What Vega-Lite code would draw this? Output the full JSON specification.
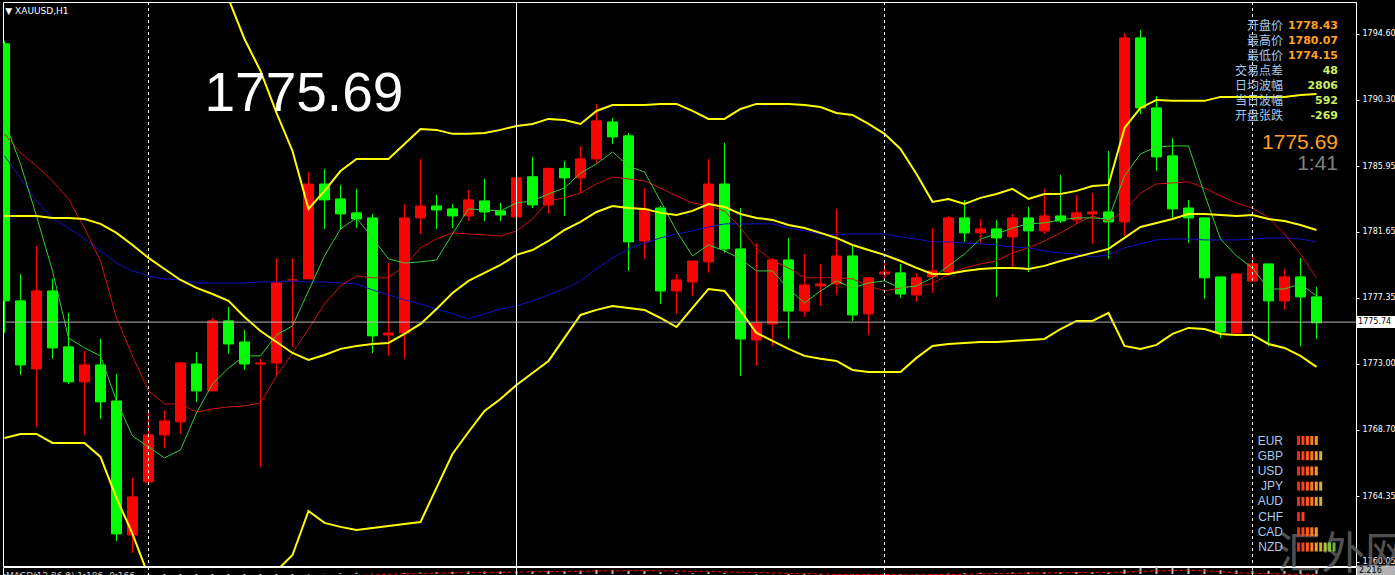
{
  "$schema": "https://vega.github.io/schema/vega-lite/v6.json",
  "background": "#000000",
  "padding": {"left": 2, "top": 1, "right": 0, "bottom": 0},
  "spacing": 1,
  "bounds": "flush",
  "config": {
    "view": {"stroke": "#ffffff", "strokeWidth": 1},
    "font": "DejaVu Sans",
    "scale": {"continuousPadding": 0}
  },
  "datasets": {
    "bars": [
      {"i":0,"o":1793.95,"h":1794.14,"l":1775.03,"c":1777.13,"bbu":1797.22,"bbm":1782.69,"bbl":1768.16,"maf":1788.91,"mam":1788.06,"mas":1786.62},
      {"i":1,"o":1777.13,"h":1778.89,"l":1772.28,"c":1772.94,"bbu":1796.96,"bbm":1782.69,"bbl":1768.42,"maf":1786.09,"mam":1786.81,"mas":1785.18},
      {"i":2,"o":1772.68,"h":1780.73,"l":1768.88,"c":1777.78,"bbu":1796.96,"bbm":1782.69,"bbl":1768.42,"maf":1782.69,"mam":1785.96,"mas":1783.67},
      {"i":3,"o":1777.78,"h":1778.57,"l":1773.34,"c":1774.05,"bbu":1797.28,"bbm":1782.56,"bbl":1767.83,"maf":1779.09,"mam":1784.98,"mas":1782.56},
      {"i":4,"o":1774.12,"h":1776.34,"l":1771.69,"c":1771.83,"bbu":1797.28,"bbm":1782.56,"bbl":1767.83,"maf":1774.71,"mam":1783.80,"mas":1781.90},
      {"i":5,"o":1771.83,"h":1773.85,"l":1768.36,"c":1772.94,"bbu":1797.15,"bbm":1782.49,"bbl":1767.83,"maf":1774.05,"mam":1781.90,"mas":1781.18},
      {"i":6,"o":1772.94,"h":1774.64,"l":1769.40,"c":1770.52,"bbu":1797.41,"bbm":1782.17,"bbl":1766.92,"maf":1773.53,"mam":1779.74,"mas":1780.40},
      {"i":7,"o":1770.58,"h":1772.35,"l":1761.42,"c":1761.88,"bbu":1798.92,"bbm":1781.58,"bbl":1764.23,"maf":1770.58,"mam":1776.01,"mas":1779.61},
      {"i":8,"o":1761.81,"h":1765.55,"l":1760.63,"c":1764.30,"bbu":1799.84,"bbm":1780.79,"bbl":1761.88,"maf":1768.29,"mam":1773.53,"mas":1779.09},
      {"i":9,"o":1765.28,"h":1769.80,"l":1765.28,"c":1768.36,"bbu":1800.75,"bbm":1779.94,"bbl":1759.13,"maf":1767.57,"mam":1771.24,"mas":1778.76},
      {"i":10,"o":1768.36,"h":1769.99,"l":1767.51,"c":1769.27,"bbu":1801.28,"bbm":1779.22,"bbl":1757.17,"maf":1766.85,"mam":1770.39,"mas":1778.57},
      {"i":11,"o":1769.21,"h":1773.12,"l":1768.42,"c":1773.07,"bbu":1800.62,"bbm":1778.50,"bbl":1756.51,"maf":1767.38,"mam":1770.39,"mas":1778.50},
      {"i":12,"o":1773.00,"h":1773.79,"l":1770.52,"c":1771.24,"bbu":1799.44,"bbm":1777.98,"bbl":1756.51,"maf":1769.80,"mam":1769.86,"mas":1778.30},
      {"i":13,"o":1771.24,"h":1776.01,"l":1771.24,"c":1775.82,"bbu":1798.33,"bbm":1777.58,"bbl":1756.84,"maf":1771.69,"mam":1770.06,"mas":1778.30},
      {"i":14,"o":1775.82,"h":1776.73,"l":1773.66,"c":1774.31,"bbu":1796.89,"bbm":1777.13,"bbl":1757.36,"maf":1772.74,"mam":1770.19,"mas":1778.30},
      {"i":15,"o":1774.44,"h":1775.23,"l":1772.61,"c":1773.00,"bbu":1794.27,"bbm":1776.08,"bbl":1757.89,"maf":1773.53,"mam":1770.26,"mas":1778.30},
      {"i":16,"o":1773.00,"h":1773.34,"l":1766.26,"c":1773.07,"bbu":1792.18,"bbm":1775.16,"bbl":1758.15,"maf":1773.53,"mam":1770.45,"mas":1778.37},
      {"i":17,"o":1773.07,"h":1779.94,"l":1772.28,"c":1778.31,"bbu":1789.43,"bbm":1774.44,"bbl":1759.46,"maf":1774.90,"mam":1772.22,"mas":1778.37},
      {"i":18,"o":1778.49,"h":1779.94,"l":1774.12,"c":1778.50,"bbu":1786.94,"bbm":1773.72,"bbl":1760.50,"maf":1775.49,"mam":1773.72,"mas":1778.44},
      {"i":19,"o":1778.57,"h":1785.57,"l":1778.57,"c":1784.78,"bbu":1783.15,"bbm":1773.27,"bbl":1763.38,"maf":1777.78,"mam":1775.29,"mas":1778.37},
      {"i":20,"o":1784.78,"h":1785.77,"l":1781.84,"c":1783.74,"bbu":1784.33,"bbm":1773.59,"bbl":1762.60,"maf":1780.07,"mam":1776.93,"mas":1778.37},
      {"i":21,"o":1783.80,"h":1784.72,"l":1781.77,"c":1782.82,"bbu":1785.63,"bbm":1773.99,"bbl":1762.34,"maf":1781.84,"mam":1778.11,"mas":1778.30},
      {"i":22,"o":1782.89,"h":1784.46,"l":1781.90,"c":1782.49,"bbu":1786.42,"bbm":1774.18,"bbl":1762.14,"maf":1782.56,"mam":1778.76,"mas":1778.24},
      {"i":23,"o":1782.56,"h":1782.82,"l":1773.72,"c":1774.84,"bbu":1786.42,"bbm":1774.31,"bbl":1762.27,"maf":1781.25,"mam":1778.64,"mas":1777.85},
      {"i":24,"o":1774.90,"h":1779.61,"l":1773.53,"c":1775.03,"bbu":1786.42,"bbm":1774.38,"bbl":1762.40,"maf":1779.88,"mam":1778.64,"mas":1777.52},
      {"i":25,"o":1775.03,"h":1783.47,"l":1773.34,"c":1782.56,"bbu":1787.40,"bbm":1774.97,"bbl":1762.53,"maf":1779.61,"mam":1779.42,"mas":1777.19},
      {"i":26,"o":1782.56,"h":1786.42,"l":1781.51,"c":1783.34,"bbu":1788.38,"bbm":1775.62,"bbl":1762.66,"maf":1779.68,"mam":1780.60,"mas":1776.93},
      {"i":27,"o":1783.34,"h":1784.06,"l":1781.84,"c":1783.08,"bbu":1788.32,"bbm":1776.60,"bbl":1764.89,"maf":1779.81,"mam":1781.18,"mas":1776.60},
      {"i":28,"o":1783.15,"h":1783.47,"l":1781.90,"c":1782.69,"bbu":1788.06,"bbm":1777.65,"bbl":1767.11,"maf":1781.51,"mam":1781.58,"mas":1776.28},
      {"i":29,"o":1782.69,"h":1784.39,"l":1782.36,"c":1783.74,"bbu":1788.06,"bbm":1778.44,"bbl":1768.55,"maf":1783.15,"mam":1781.51,"mas":1775.95},
      {"i":30,"o":1783.67,"h":1785.11,"l":1782.36,"c":1782.95,"bbu":1788.12,"bbm":1778.96,"bbl":1769.93,"maf":1783.08,"mam":1781.45,"mas":1776.28},
      {"i":31,"o":1783.02,"h":1783.54,"l":1782.36,"c":1782.75,"bbu":1788.32,"bbm":1779.48,"bbl":1770.71,"maf":1783.02,"mam":1781.38,"mas":1776.60},
      {"i":32,"o":1782.62,"h":1785.25,"l":1782.49,"c":1785.18,"bbu":1788.58,"bbm":1780.14,"bbl":1771.63,"maf":1783.54,"mam":1781.71,"mas":1776.80},
      {"i":33,"o":1785.25,"h":1786.55,"l":1783.21,"c":1783.41,"bbu":1788.71,"bbm":1780.46,"bbl":1772.41,"maf":1783.67,"mam":1782.49,"mas":1777.13},
      {"i":34,"o":1783.41,"h":1785.86,"l":1782.82,"c":1785.80,"bbu":1789.04,"bbm":1781.05,"bbl":1773.20,"maf":1784.13,"mam":1783.67,"mas":1777.52},
      {"i":35,"o":1785.80,"h":1786.29,"l":1782.69,"c":1785.18,"bbu":1788.97,"bbm":1781.77,"bbl":1774.71,"maf":1784.52,"mam":1783.87,"mas":1777.91},
      {"i":36,"o":1785.18,"h":1787.27,"l":1784.19,"c":1786.42,"bbu":1788.71,"bbm":1782.30,"bbl":1776.21,"maf":1785.50,"mam":1784.19,"mas":1778.44},
      {"i":37,"o":1786.42,"h":1790.02,"l":1786.09,"c":1788.91,"bbu":1789.56,"bbm":1782.95,"bbl":1776.54,"maf":1786.09,"mam":1784.78,"mas":1779.22},
      {"i":38,"o":1788.84,"h":1789.10,"l":1787.40,"c":1787.86,"bbu":1789.95,"bbm":1783.34,"bbl":1776.80,"maf":1786.88,"mam":1785.24,"mas":1779.94},
      {"i":39,"o":1787.93,"h":1788.12,"l":1779.09,"c":1780.99,"bbu":1789.95,"bbm":1783.21,"bbl":1776.67,"maf":1785.96,"mam":1785.11,"mas":1780.53},
      {"i":40,"o":1781.05,"h":1784.52,"l":1779.88,"c":1783.15,"bbu":1789.95,"bbm":1783.15,"bbl":1776.54,"maf":1785.56,"mam":1784.98,"mas":1780.92},
      {"i":41,"o":1783.21,"h":1783.34,"l":1776.93,"c":1777.78,"bbu":1790.02,"bbm":1782.89,"bbl":1776.01,"maf":1783.67,"mam":1784.52,"mas":1781.25},
      {"i":42,"o":1777.78,"h":1778.89,"l":1776.28,"c":1778.50,"bbu":1790.02,"bbm":1782.75,"bbl":1775.42,"maf":1781.71,"mam":1784.00,"mas":1781.51},
      {"i":43,"o":1778.37,"h":1779.74,"l":1777.45,"c":1779.74,"bbu":1789.56,"bbm":1783.02,"bbl":1776.67,"maf":1780.07,"mam":1783.54,"mas":1781.71},
      {"i":44,"o":1779.68,"h":1786.42,"l":1778.96,"c":1784.78,"bbu":1789.04,"bbm":1783.47,"bbl":1777.91,"maf":1780.79,"mam":1783.34,"mas":1781.97},
      {"i":45,"o":1784.78,"h":1787.47,"l":1780.27,"c":1780.53,"bbu":1789.04,"bbm":1783.28,"bbl":1777.78,"maf":1780.40,"mam":1783.02,"mas":1782.17},
      {"i":46,"o":1780.53,"h":1783.21,"l":1772.22,"c":1774.64,"bbu":1789.69,"bbm":1782.82,"bbl":1776.47,"maf":1779.88,"mam":1781.90,"mas":1782.17},
      {"i":47,"o":1774.57,"h":1780.92,"l":1772.87,"c":1775.69,"bbu":1790.02,"bbm":1782.56,"bbl":1775.03,"maf":1779.09,"mam":1780.60,"mas":1782.17},
      {"i":48,"o":1775.62,"h":1779.94,"l":1774.18,"c":1779.81,"bbu":1790.02,"bbm":1782.43,"bbl":1774.51,"maf":1779.09,"mam":1779.74,"mas":1782.17},
      {"i":49,"o":1779.81,"h":1781.25,"l":1774.64,"c":1776.47,"bbu":1790.02,"bbm":1782.10,"bbl":1773.99,"maf":1777.91,"mam":1779.29,"mas":1781.90},
      {"i":50,"o":1776.47,"h":1780.20,"l":1776.08,"c":1778.17,"bbu":1789.95,"bbm":1781.90,"bbl":1773.53,"maf":1777.00,"mam":1778.64,"mas":1781.71},
      {"i":51,"o":1778.11,"h":1779.55,"l":1776.80,"c":1778.24,"bbu":1789.82,"bbm":1781.58,"bbl":1773.34,"maf":1777.78,"mam":1778.64,"mas":1781.51},
      {"i":52,"o":1778.24,"h":1783.15,"l":1777.52,"c":1780.07,"bbu":1789.43,"bbm":1781.25,"bbl":1773.20,"maf":1778.44,"mam":1778.64,"mas":1781.45},
      {"i":53,"o":1780.07,"h":1780.79,"l":1775.82,"c":1776.21,"bbu":1789.30,"bbm":1780.79,"bbl":1772.61,"maf":1777.98,"mam":1778.57,"mas":1781.51},
      {"i":54,"o":1776.28,"h":1778.70,"l":1774.90,"c":1778.64,"bbu":1788.71,"bbm":1780.46,"bbl":1772.48,"maf":1778.30,"mam":1778.11,"mas":1781.51},
      {"i":55,"o":1778.89,"h":1779.74,"l":1778.64,"c":1779.02,"bbu":1788.06,"bbm":1780.14,"bbl":1772.48,"maf":1778.44,"mam":1777.78,"mas":1781.51},
      {"i":56,"o":1778.96,"h":1779.55,"l":1777.32,"c":1777.58,"bbu":1787.07,"bbm":1779.74,"bbl":1772.48,"maf":1777.98,"mam":1777.98,"mas":1781.32},
      {"i":57,"o":1777.52,"h":1778.96,"l":1777.06,"c":1778.64,"bbu":1785.44,"bbm":1779.29,"bbl":1773.40,"maf":1778.11,"mam":1778.11,"mas":1781.18},
      {"i":58,"o":1778.70,"h":1781.90,"l":1777.65,"c":1779.09,"bbu":1783.61,"bbm":1778.89,"bbl":1774.18,"maf":1778.64,"mam":1778.24,"mas":1780.99},
      {"i":59,"o":1779.02,"h":1782.69,"l":1778.76,"c":1782.56,"bbu":1783.80,"bbm":1778.89,"bbl":1774.31,"maf":1779.42,"mam":1778.89,"mas":1780.99},
      {"i":60,"o":1782.56,"h":1783.74,"l":1780.99,"c":1781.58,"bbu":1783.47,"bbm":1779.09,"bbl":1774.38,"maf":1780.20,"mam":1779.29,"mas":1780.92},
      {"i":61,"o":1781.58,"h":1782.49,"l":1780.92,"c":1781.84,"bbu":1783.87,"bbm":1779.22,"bbl":1774.44,"maf":1781.18,"mam":1779.55,"mas":1780.86},
      {"i":62,"o":1781.84,"h":1782.43,"l":1777.39,"c":1781.25,"bbu":1784.13,"bbm":1779.29,"bbl":1774.44,"maf":1781.51,"mam":1779.74,"mas":1780.79},
      {"i":63,"o":1781.32,"h":1782.82,"l":1779.29,"c":1782.56,"bbu":1784.46,"bbm":1779.29,"bbl":1774.51,"maf":1781.90,"mam":1780.27,"mas":1780.66},
      {"i":64,"o":1782.56,"h":1783.28,"l":1779.02,"c":1781.71,"bbu":1783.80,"bbm":1779.22,"bbl":1774.57,"maf":1782.17,"mam":1780.60,"mas":1780.60},
      {"i":65,"o":1781.71,"h":1784.46,"l":1781.51,"c":1782.69,"bbu":1784.13,"bbm":1779.42,"bbl":1774.64,"maf":1782.23,"mam":1781.05,"mas":1780.40},
      {"i":66,"o":1782.69,"h":1785.37,"l":1782.23,"c":1782.36,"bbu":1784.13,"bbm":1779.74,"bbl":1775.29,"maf":1782.43,"mam":1781.58,"mas":1780.27},
      {"i":67,"o":1782.43,"h":1784.06,"l":1782.17,"c":1782.89,"bbu":1784.33,"bbm":1780.01,"bbl":1775.82,"maf":1782.56,"mam":1782.17,"mas":1780.20},
      {"i":68,"o":1782.82,"h":1784.19,"l":1780.86,"c":1782.95,"bbu":1784.65,"bbm":1780.27,"bbl":1775.82,"maf":1782.56,"mam":1782.69,"mas":1780.01},
      {"i":69,"o":1782.95,"h":1786.94,"l":1779.88,"c":1782.30,"bbu":1784.72,"bbm":1780.53,"bbl":1776.34,"maf":1782.49,"mam":1782.36,"mas":1780.14},
      {"i":70,"o":1782.30,"h":1794.67,"l":1781.38,"c":1794.34,"bbu":1788.45,"bbm":1781.25,"bbl":1774.18,"maf":1785.31,"mam":1783.02,"mas":1780.60},
      {"i":71,"o":1794.34,"h":1794.86,"l":1789.36,"c":1789.76,"bbu":1789.76,"bbm":1781.97,"bbl":1773.99,"maf":1786.75,"mam":1784.19,"mas":1780.86},
      {"i":72,"o":1789.76,"h":1790.54,"l":1785.63,"c":1786.55,"bbu":1790.28,"bbm":1782.23,"bbl":1774.25,"maf":1787.21,"mam":1784.78,"mas":1781.12},
      {"i":73,"o":1786.62,"h":1787.79,"l":1782.56,"c":1783.15,"bbu":1790.22,"bbm":1782.49,"bbl":1774.97,"maf":1787.27,"mam":1784.85,"mas":1781.18},
      {"i":74,"o":1783.21,"h":1783.74,"l":1780.92,"c":1782.56,"bbu":1790.22,"bbm":1782.82,"bbl":1775.36,"maf":1787.27,"mam":1784.92,"mas":1781.18},
      {"i":75,"o":1782.56,"h":1782.56,"l":1777.26,"c":1778.64,"bbu":1790.22,"bbm":1782.82,"bbl":1775.29,"maf":1784.13,"mam":1784.52,"mas":1781.12},
      {"i":76,"o":1778.70,"h":1778.70,"l":1774.70,"c":1775.10,"bbu":1790.48,"bbm":1782.75,"bbl":1774.97,"maf":1781.18,"mam":1784.00,"mas":1781.12},
      {"i":77,"o":1775.03,"h":1778.96,"l":1774.97,"c":1778.89,"bbu":1790.48,"bbm":1782.69,"bbl":1774.90,"maf":1780.07,"mam":1783.54,"mas":1781.12},
      {"i":78,"o":1778.43,"h":1780.07,"l":1778.37,"c":1779.55,"bbu":1790.48,"bbm":1782.75,"bbl":1774.90,"maf":1779.29,"mam":1783.21,"mas":1781.18},
      {"i":79,"o":1779.55,"h":1779.55,"l":1774.15,"c":1777.13,"bbu":1790.48,"bbm":1782.49,"bbl":1774.31,"maf":1777.91,"mam":1782.56,"mas":1781.25},
      {"i":80,"o":1777.13,"h":1779.22,"l":1776.54,"c":1778.70,"bbu":1790.48,"bbm":1782.36,"bbl":1774.05,"maf":1777.91,"mam":1781.51,"mas":1781.25},
      {"i":81,"o":1778.70,"h":1779.94,"l":1774.15,"c":1777.39,"bbu":1790.61,"bbm":1782.10,"bbl":1773.53,"maf":1778.24,"mam":1780.20,"mas":1781.18},
      {"i":82,"o":1777.39,"h":1778.04,"l":1774.64,"c":1775.69,"bbu":1790.67,"bbm":1781.77,"bbl":1772.81,"maf":1777.45,"mam":1778.64,"mas":1780.99}
    ],
    "macd": [
      {"i":0,"hist":-1.0,"sig":-0.5},{"i":1,"hist":-1.5,"sig":-0.7},{"i":2,"hist":-1.6,"sig":-0.9},{"i":3,"hist":-1.8,"sig":-1.1},
      {"i":4,"hist":-2.2,"sig":-1.3},{"i":5,"hist":-2.4,"sig":-1.5},{"i":6,"hist":-2.7,"sig":-1.7},{"i":7,"hist":-3.4,"sig":-2.0},
      {"i":8,"hist":-3.8,"sig":-2.3},{"i":9,"hist":-3.6,"sig":-2.5},{"i":10,"hist":-3.3,"sig":-2.7},{"i":11,"hist":-2.8,"sig":-2.8},
      {"i":12,"hist":-2.6,"sig":-2.8},{"i":13,"hist":-2.1,"sig":-2.7},{"i":14,"hist":-1.8,"sig":-2.6},{"i":15,"hist":-1.6,"sig":-2.4},
      {"i":16,"hist":-1.5,"sig":-2.2},{"i":17,"hist":-1.0,"sig":-2.0},{"i":18,"hist":-0.7,"sig":-1.7},{"i":19,"hist":-0.2,"sig":-1.4},
      {"i":20,"hist":0.1,"sig":-1.1},{"i":21,"hist":0.3,"sig":-0.8},{"i":22,"hist":0.4,"sig":-0.5},{"i":23,"hist":0.1,"sig":-0.3},
      {"i":24,"hist":0.05,"sig":-0.1},{"i":25,"hist":0.3,"sig":0.0},{"i":26,"hist":0.5,"sig":0.15},{"i":27,"hist":0.6,"sig":0.25},
      {"i":28,"hist":0.7,"sig":0.35},{"i":29,"hist":0.8,"sig":0.45},{"i":30,"hist":0.8,"sig":0.5},{"i":31,"hist":0.8,"sig":0.55},
      {"i":32,"hist":0.9,"sig":0.6},{"i":33,"hist":0.9,"sig":0.7},{"i":34,"hist":1.0,"sig":0.75},{"i":35,"hist":1.0,"sig":0.8},
      {"i":36,"hist":1.1,"sig":0.85},{"i":37,"hist":1.3,"sig":0.95},{"i":38,"hist":1.3,"sig":1.0},{"i":39,"hist":1.0,"sig":1.05},
      {"i":40,"hist":1.0,"sig":1.05},{"i":41,"hist":0.6,"sig":1.0},{"i":42,"hist":0.4,"sig":0.95},{"i":43,"hist":0.3,"sig":0.85},
      {"i":44,"hist":0.6,"sig":0.8},{"i":45,"hist":0.4,"sig":0.7},{"i":46,"hist":0.05,"sig":0.6},{"i":47,"hist":-0.2,"sig":0.45},
      {"i":48,"hist":-0.1,"sig":0.35},{"i":49,"hist":-0.3,"sig":0.2},{"i":50,"hist":-0.3,"sig":0.1},{"i":51,"hist":-0.3,"sig":0.0},
      {"i":52,"hist":-0.1,"sig":-0.1},{"i":53,"hist":-0.3,"sig":-0.15},{"i":54,"hist":-0.3,"sig":-0.2},{"i":55,"hist":-0.2,"sig":-0.2},
      {"i":56,"hist":-0.3,"sig":-0.25},{"i":57,"hist":-0.2,"sig":-0.25},{"i":58,"hist":-0.1,"sig":-0.2},{"i":59,"hist":0.2,"sig":-0.15},
      {"i":60,"hist":0.3,"sig":-0.1},{"i":61,"hist":0.4,"sig":0.0},{"i":62,"hist":0.4,"sig":0.1},{"i":63,"hist":0.5,"sig":0.2},
      {"i":64,"hist":0.5,"sig":0.3},{"i":65,"hist":0.6,"sig":0.35},{"i":66,"hist":0.6,"sig":0.4},{"i":67,"hist":0.6,"sig":0.45},
      {"i":68,"hist":0.6,"sig":0.5},{"i":69,"hist":0.5,"sig":0.5},{"i":70,"hist":1.4,"sig":0.6},{"i":71,"hist":2.0,"sig":0.8},
      {"i":72,"hist":2.216,"sig":1.0},{"i":73,"hist":2.0,"sig":1.1},{"i":74,"hist":1.8,"sig":1.2},{"i":75,"hist":1.5,"sig":1.0},
      {"i":76,"hist":1.2,"sig":0.7},{"i":77,"hist":1.1,"sig":0.4},{"i":78,"hist":1.1,"sig":0.2},{"i":79,"hist":1.0,"sig":0.05},
      {"i":80,"hist":1.0,"sig":-0.05},{"i":81,"hist":1.2,"sig":-0.1},{"i":82,"hist":1.186,"sig":-0.166}
    ],
    "days": [{"i": 9}, {"i": 32}, {"i": 55}, {"i": 78}],
    "vline": [{"i": 32}],
    "last": [{"price": 1775.69, "tag": 1775.74, "timer": "1:41"}],
    "quote": [
      {"k": 0, "name": "开盘价", "val": "1778.43", "grp": "price"},
      {"k": 1, "name": "最高价", "val": "1780.07", "grp": "price"},
      {"k": 2, "name": "最低价", "val": "1774.15", "grp": "price"},
      {"k": 3, "name": "交易点差", "val": "48", "grp": "stat"},
      {"k": 4, "name": "日均波幅", "val": "2806", "grp": "stat"},
      {"k": 5, "name": "当日波幅", "val": "592", "grp": "stat"},
      {"k": 6, "name": "开盘张跌", "val": "-269", "grp": "stat"}
    ],
    "meter": [
      {"cur":"EUR","seg":1},{"cur":"EUR","seg":2},{"cur":"EUR","seg":3},{"cur":"EUR","seg":4},{"cur":"EUR","seg":5},
      {"cur":"GBP","seg":1},{"cur":"GBP","seg":2},{"cur":"GBP","seg":3},{"cur":"GBP","seg":4},{"cur":"GBP","seg":5},{"cur":"GBP","seg":6},
      {"cur":"USD","seg":1},{"cur":"USD","seg":2},{"cur":"USD","seg":3},{"cur":"USD","seg":4},{"cur":"USD","seg":5},
      {"cur":"JPY","seg":1},{"cur":"JPY","seg":2},{"cur":"JPY","seg":3},{"cur":"JPY","seg":4},{"cur":"JPY","seg":5},{"cur":"JPY","seg":6},
      {"cur":"AUD","seg":1},{"cur":"AUD","seg":2},{"cur":"AUD","seg":3},{"cur":"AUD","seg":4},{"cur":"AUD","seg":5},{"cur":"AUD","seg":6},
      {"cur":"CHF","seg":1},{"cur":"CHF","seg":2},
      {"cur":"CAD","seg":1},{"cur":"CAD","seg":2},{"cur":"CAD","seg":3},{"cur":"CAD","seg":4},{"cur":"CAD","seg":5},
      {"cur":"NZD","seg":1},{"cur":"NZD","seg":2},{"cur":"NZD","seg":3},{"cur":"NZD","seg":4},{"cur":"NZD","seg":5},{"cur":"NZD","seg":6},{"cur":"NZD","seg":7},{"cur":"NZD","seg":8},{"cur":"NZD","seg":9}
    ]
  },
  "vconcat": [
    {
      "width": 1353,
      "height": 564,
      "layer": [
        {
          "layer": [
            {
              "data": {"name": "bars"},
              "mark": {"type": "rule", "strokeWidth": 1, "clip": true},
              "encoding": {
                "x": {"field": "i", "type": "quantitative", "scale": {"domain": [-0.09375, 84.46875], "padding": 0}, "axis": null},
                "y": {"field": "h", "type": "quantitative", "scale": {"domain": [1759.78, 1796.69], "padding": 0},
                  "axis": {"orient": "right", "title": null, "grid": false,
                    "values": [1760.05, 1762.20, 1764.35, 1766.55, 1768.70, 1770.85, 1773.00, 1775.15, 1777.35, 1779.50, 1781.65, 1783.80, 1785.95, 1788.10, 1790.30, 1792.45, 1794.60],
                    "format": ".2f", "domainColor": "#ffffff", "tickColor": "#ffffff", "tickSize": 3,
                    "labelColor": "#ffffff", "labelFont": "DejaVu Sans", "labelFontSize": 8, "labelPadding": 3,
                    "labelOverlap": false, "labelFlush": false, "labelBound": false}},
                "y2": {"field": "l"},
                "color": {"condition": {"test": "datum.c > datum.o", "value": "#ff0000"}, "value": "#00ff00"}
              }
            },
            {
              "data": {"name": "bars"},
              "mark": {"type": "bar", "width": 10, "strokeWidth": 1, "clip": true},
              "encoding": {
                "x": {"field": "i", "type": "quantitative", "scale": {"domain": [-0.09375, 84.46875], "padding": 0}, "axis": null},
                "y": {"field": "o", "type": "quantitative", "scale": {"domain": [1759.78, 1796.69], "padding": 0}},
                "y2": {"field": "c"},
                "color": {"condition": {"test": "datum.c > datum.o", "value": "#ff0000"}, "value": "#00ff00"},
                "stroke": {"condition": {"test": "datum.c > datum.o", "value": "#ff0000"}, "value": "#00ff00"}
              }
            },
            {
              "data": {"name": "bars"},
              "mark": {"type": "line", "color": "#1010c8", "strokeWidth": 1, "clip": true},
              "encoding": {
                "x": {"field": "i", "type": "quantitative", "scale": {"domain": [-0.09375, 84.46875], "padding": 0}, "axis": null},
                "y": {"field": "mas", "type": "quantitative", "scale": {"domain": [1759.78, 1796.69], "padding": 0}}
              }
            },
            {
              "data": {"name": "bars"},
              "mark": {"type": "line", "color": "#d01010", "strokeWidth": 1, "clip": true},
              "encoding": {
                "x": {"field": "i", "type": "quantitative", "scale": {"domain": [-0.09375, 84.46875], "padding": 0}, "axis": null},
                "y": {"field": "mam", "type": "quantitative", "scale": {"domain": [1759.78, 1796.69], "padding": 0}}
              }
            },
            {
              "data": {"name": "bars"},
              "mark": {"type": "line", "color": "#30d030", "strokeWidth": 1, "clip": true},
              "encoding": {
                "x": {"field": "i", "type": "quantitative", "scale": {"domain": [-0.09375, 84.46875], "padding": 0}, "axis": null},
                "y": {"field": "maf", "type": "quantitative", "scale": {"domain": [1759.78, 1796.69], "padding": 0}}
              }
            },
            {
              "data": {"name": "bars"},
              "mark": {"type": "line", "color": "#ffff00", "strokeWidth": 2, "clip": true},
              "encoding": {
                "x": {"field": "i", "type": "quantitative", "scale": {"domain": [-0.09375, 84.46875], "padding": 0}, "axis": null},
                "y": {"field": "bbu", "type": "quantitative", "scale": {"domain": [1759.78, 1796.69], "padding": 0}}
              }
            },
            {
              "data": {"name": "bars"},
              "mark": {"type": "line", "color": "#ffff00", "strokeWidth": 2, "clip": true},
              "encoding": {
                "x": {"field": "i", "type": "quantitative", "scale": {"domain": [-0.09375, 84.46875], "padding": 0}, "axis": null},
                "y": {"field": "bbm", "type": "quantitative", "scale": {"domain": [1759.78, 1796.69], "padding": 0}}
              }
            },
            {
              "data": {"name": "bars"},
              "mark": {"type": "line", "color": "#ffff00", "strokeWidth": 2, "clip": true},
              "encoding": {
                "x": {"field": "i", "type": "quantitative", "scale": {"domain": [-0.09375, 84.46875], "padding": 0}, "axis": null},
                "y": {"field": "bbl", "type": "quantitative", "scale": {"domain": [1759.78, 1796.69], "padding": 0}}
              }
            },
            {
              "data": {"name": "days"},
              "mark": {"type": "rule", "color": "#ffffff", "strokeWidth": 1, "strokeDash": [3, 3]},
              "encoding": {
                "x": {"field": "i", "type": "quantitative", "scale": {"domain": [-0.09375, 84.46875], "padding": 0}, "axis": null}
              }
            },
            {
              "data": {"name": "vline"},
              "mark": {"type": "rule", "color": "#ffffff", "strokeWidth": 1},
              "encoding": {
                "x": {"field": "i", "type": "quantitative", "scale": {"domain": [-0.09375, 84.46875], "padding": 0}, "axis": null}
              }
            },
            {
              "data": {"name": "last"},
              "mark": {"type": "rule", "color": "#b4b4b4", "strokeWidth": 1},
              "encoding": {
                "x": {"datum": -0.09375, "type": "quantitative", "scale": {"domain": [-0.09375, 84.46875], "padding": 0}, "axis": null},
                "x2": {"datum": 84.46875},
                "y": {"field": "tag", "type": "quantitative", "scale": {"domain": [1759.78, 1796.69], "padding": 0}}
              }
            },
            {
              "data": {"name": "last"},
              "mark": {"type": "tick", "orient": "horizontal", "size": 39, "thickness": 12, "color": "#ffffff", "opacity": 1},
              "encoding": {
                "x": {"datum": 85.72, "type": "quantitative", "scale": {"domain": [-0.09375, 84.46875], "padding": 0}, "axis": null},
                "y": {"field": "tag", "type": "quantitative", "scale": {"domain": [1759.78, 1796.69], "padding": 0}}
              }
            },
            {
              "data": {"name": "last"},
              "mark": {"type": "text", "align": "left", "baseline": "middle", "font": "DejaVu Sans", "fontSize": 8, "color": "#000000"},
              "encoding": {
                "x": {"datum": 84.6, "type": "quantitative", "scale": {"domain": [-0.09375, 84.46875], "padding": 0}, "axis": null},
                "y": {"field": "tag", "type": "quantitative", "scale": {"domain": [1759.78, 1796.69], "padding": 0}},
                "text": {"field": "tag", "format": ".2f"}
              }
            },
            {
              "data": {"name": "last"},
              "mark": {"type": "text", "align": "left", "baseline": "alphabetic", "font": "Liberation Sans", "fontSize": 55, "color": "#ffffff"},
              "encoding": {
                "x": {"datum": 12.5, "type": "quantitative", "scale": {"domain": [-0.09375, 84.46875], "padding": 0}, "axis": null},
                "y": {"datum": 1789.56, "type": "quantitative", "scale": {"domain": [1759.78, 1796.69], "padding": 0}},
                "text": {"field": "price", "format": ".2f"}
              }
            },
            {
              "data": {"values": [{}]},
              "mark": {"type": "text", "align": "left", "baseline": "middle", "font": "DejaVu Sans", "fontSize": 9, "color": "#ffffff"},
              "encoding": {
                "x": {"datum": 0.05, "type": "quantitative", "scale": {"domain": [-0.09375, 84.46875], "padding": 0}, "axis": null},
                "y": {"datum": 1796.12, "type": "quantitative", "scale": {"domain": [1759.78, 1796.69], "padding": 0}},
                "text": {"value": "▼ XAUUSD,H1"}
              }
            },
            {
              "data": {"values": [{}]},
              "mark": {"type": "text", "align": "center", "baseline": "middle", "font": "Noto Sans CJK SC", "fontSize": 44, "color": "#646464", "opacity": 0.8},
              "encoding": {
                "x": {"datum": 83.66, "type": "quantitative", "scale": {"domain": [-0.09375, 84.46875], "padding": 0}, "axis": null},
                "y": {"datum": 1760.44, "type": "quantitative", "scale": {"domain": [1759.78, 1796.69], "padding": 0}},
                "text": {"value": "汇外网"}
              }
            }
          ]
        },
        {
          "layer": [
            {
              "data": {"name": "quote"},
              "mark": {"type": "text", "align": "right", "baseline": "middle", "font": "Noto Sans CJK SC", "fontSize": 12, "color": "#a6caf0"},
              "encoding": {
                "x": {"datum": 0, "type": "quantitative", "scale": {"domain": [0, 1], "range": [1280, 1335]}, "axis": null},
                "y": {"field": "k", "type": "quantitative", "scale": {"domain": [0, 6], "range": [24, 114]}, "axis": null},
                "text": {"field": "name"}
              }
            },
            {
              "data": {"name": "quote"},
              "mark": {"type": "text", "align": "right", "baseline": "middle", "font": "DejaVu Sans", "fontSize": 11, "fontWeight": "bold"},
              "encoding": {
                "x": {"datum": 1, "type": "quantitative", "scale": {"domain": [0, 1], "range": [1280, 1335]}, "axis": null},
                "y": {"field": "k", "type": "quantitative", "scale": {"domain": [0, 6], "range": [24, 114]}, "axis": null},
                "text": {"field": "val"},
                "color": {"field": "grp", "type": "nominal", "scale": {"domain": ["price", "stat"], "range": ["#ffa024", "#c8f064"]}, "legend": null}
              }
            },
            {
              "data": {"name": "last"},
              "mark": {"type": "text", "align": "right", "baseline": "middle", "font": "Liberation Sans", "fontSize": 21, "color": "#ffa024"},
              "encoding": {
                "x": {"datum": 1, "type": "quantitative", "scale": {"domain": [0, 1], "range": [1280, 1335]}, "axis": null},
                "y": {"datum": 7.8, "type": "quantitative", "scale": {"domain": [0, 6], "range": [24, 114]}, "axis": null},
                "text": {"field": "price", "format": ".2f"}
              }
            },
            {
              "data": {"name": "last"},
              "mark": {"type": "text", "align": "right", "baseline": "middle", "font": "Liberation Sans", "fontSize": 21, "color": "#808080"},
              "encoding": {
                "x": {"datum": 1, "type": "quantitative", "scale": {"domain": [0, 1], "range": [1280, 1335]}, "axis": null},
                "y": {"datum": 9.2, "type": "quantitative", "scale": {"domain": [0, 6], "range": [24, 114]}, "axis": null},
                "text": {"field": "timer"}
              }
            }
          ]
        },
        {
          "layer": [
            {
              "data": {"name": "meter"},
              "mark": {"type": "tick", "orient": "vertical", "thickness": 3, "size": 9, "opacity": 1},
              "encoding": {
                "x": {"field": "seg", "type": "quantitative", "scale": {"domain": [1, 9], "range": [1295.5, 1331]}, "axis": null},
                "y": {"field": "cur", "type": "nominal", "scale": {"type": "point", "domain": ["EUR", "GBP", "USD", "JPY", "AUD", "CHF", "CAD", "NZD"], "range": [438.5, 545], "padding": 0}, "axis": null},
                "color": {"field": "seg", "type": "ordinal", "scale": {"domain": [1, 2, 3, 4, 5, 6, 7, 8, 9], "range": ["#f02810", "#ff4018", "#ff5c18", "#ff7a20", "#ff9820", "#d0b030", "#b0c038", "#8cc040", "#68b838"]}, "legend": null}
              }
            },
            {
              "data": {"name": "meter"},
              "transform": [{"filter": "datum.seg == 1"}],
              "mark": {"type": "text", "align": "right", "baseline": "middle", "font": "Liberation Sans", "fontSize": 12, "color": "#a6caf0"},
              "encoding": {
                "x": {"datum": -2.49, "type": "quantitative", "scale": {"domain": [1, 9], "range": [1295.5, 1331]}, "axis": null},
                "y": {"field": "cur", "type": "nominal", "scale": {"type": "point", "domain": ["EUR", "GBP", "USD", "JPY", "AUD", "CHF", "CAD", "NZD"], "range": [438.5, 545], "padding": 0}, "axis": null},
                "text": {"field": "cur"}
              }
            }
          ]
        }
      ],
      "resolve": {"scale": {"x": "independent", "y": "independent", "color": "independent"}}
    },
    {
      "width": 1353,
      "height": 40,
      "layer": [
        {
          "data": {"name": "macd"},
          "mark": {"type": "bar", "width": 2, "color": "#c0c0c0", "clip": true},
          "encoding": {
            "x": {"field": "i", "type": "quantitative", "scale": {"domain": [-0.09375, 84.46875], "padding": 0}, "axis": null},
            "y": {"field": "hist", "type": "quantitative", "scale": {"domain": [-10.45, 2.216], "padding": 0}, "axis": null},
            "y2": {"datum": 0}
          }
        },
        {
          "data": {"name": "macd"},
          "mark": {"type": "line", "color": "#ff0000", "strokeWidth": 1, "strokeDash": [3, 3], "clip": true},
          "encoding": {
            "x": {"field": "i", "type": "quantitative", "scale": {"domain": [-0.09375, 84.46875], "padding": 0}, "axis": null},
            "y": {"field": "sig", "type": "quantitative", "scale": {"domain": [-10.45, 2.216], "padding": 0}, "axis": null}
          }
        },
        {
          "data": {"name": "days"},
          "mark": {"type": "rule", "color": "#ffffff", "strokeWidth": 1, "strokeDash": [3, 3]},
          "encoding": {"x": {"field": "i", "type": "quantitative", "scale": {"domain": [-0.09375, 84.46875], "padding": 0}, "axis": null}}
        },
        {
          "data": {"name": "vline"},
          "mark": {"type": "rule", "color": "#ffffff", "strokeWidth": 1},
          "encoding": {"x": {"field": "i", "type": "quantitative", "scale": {"domain": [-0.09375, 84.46875], "padding": 0}, "axis": null}}
        },
        {
          "data": {"values": [{}]},
          "mark": {"type": "text", "align": "left", "baseline": "top", "font": "DejaVu Sans", "fontSize": 9, "color": "#c8c8c8"},
          "encoding": {
            "x": {"datum": 0.1, "type": "quantitative", "scale": {"domain": [-0.09375, 84.46875], "padding": 0}, "axis": null},
            "y": {"datum": 0.633, "type": "quantitative", "scale": {"domain": [-10.45, 2.216], "padding": 0}, "axis": null},
            "text": {"value": "MACD(12,26,9) 1.186 -0.166"}
          }
        },
        {
          "data": {"values": [{}]},
          "mark": {"type": "tick", "orient": "horizontal", "size": 38, "thickness": 11, "color": "#ffffff"},
          "encoding": {
            "x": {"datum": 85.72, "type": "quantitative", "scale": {"domain": [-0.09375, 84.46875], "padding": 0}, "axis": null},
            "y": {"datum": 0.95, "type": "quantitative", "scale": {"domain": [-10.45, 2.216], "padding": 0}, "axis": null}
          }
        },
        {
          "data": {"values": [{}]},
          "mark": {"type": "text", "align": "left", "baseline": "middle", "font": "DejaVu Sans", "fontSize": 8, "color": "#000000"},
          "encoding": {
            "x": {"datum": 84.65, "type": "quantitative", "scale": {"domain": [-0.09375, 84.46875], "padding": 0}, "axis": null},
            "y": {"datum": 0.95, "type": "quantitative", "scale": {"domain": [-10.45, 2.216], "padding": 0}, "axis": null},
            "text": {"value": "2.216"}
          }
        }
      ]
    }
  ]
}
